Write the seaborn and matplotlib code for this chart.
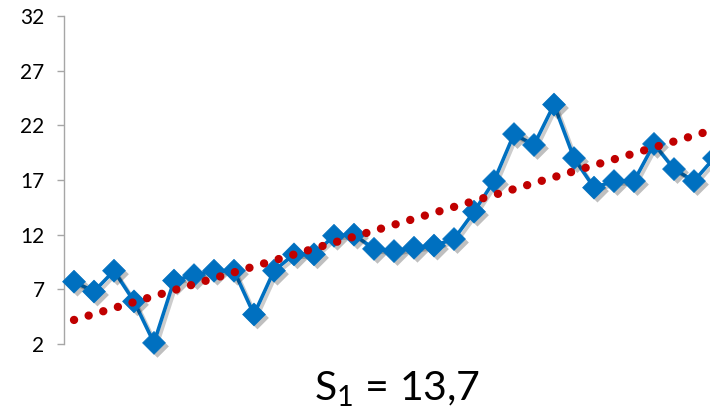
import numpy as np
import pandas as pd
import matplotlib
matplotlib.use("Agg")
import matplotlib.pyplot as plt
import matplotlib.patheffects as pe
import seaborn as sns

# ---- data ----
values = [7.7, 6.8, 8.7, 5.9, 2.1, 7.8, 8.3, 8.7, 8.7, 4.7, 8.7, 10.2, 10.2,
          11.9, 12.0, 10.7, 10.5, 10.8, 11.0, 11.6, 14.1, 16.9, 21.2, 20.2,
          23.9, 19.0, 16.3, 16.9, 16.9, 20.3, 18.0, 16.9, 19.0]
trend_x = [0, 34]
trend_y = [4.2, 22.7]
y_ticks = [2, 7, 12, 17, 22, 27, 32]
label_text = r"$\mathregular{S_1}$ = 13,7"

BLUE = "#0070C0"
RED = "#C00000"

sns.set_style("white")
plt.rcParams["font.family"] = ["Lato", "DejaVu Sans"]
plt.rcParams["mathtext.default"] = "regular"

df = pd.DataFrame({"idx": np.arange(len(values)), "val": values})
tf = pd.DataFrame({"idx": trend_x, "val": trend_y})

fig = plt.figure(figsize=(7.10, 4.15), dpi=100)
ax = fig.add_axes([64 / 710, (415 - 344) / 415, 700 / 710, 328 / 415])

sns.lineplot(data=df, x="idx", y="val", ax=ax, color=BLUE, lw=2.6,
             zorder=2, clip_on=False)
ax.lines[-1].set_path_effects([
    pe.SimpleLineShadow(offset=(2, -2), shadow_color="black", alpha=0.2),
    pe.Normal()])

sns.scatterplot(data=df, x="idx", y="val", ax=ax, marker="D", s=135,
                color=BLUE, edgecolor=BLUE, linewidth=0.5, zorder=3,
                clip_on=False)
ax.collections[-1].set_path_effects([
    pe.SimplePatchShadow(offset=(2.5, -2.5), shadow_rgbFace="black", alpha=0.25),
    pe.Normal()])

sns.lineplot(data=tf, x="idx", y="val", ax=ax, color=RED, lw=6.0, zorder=4,
             clip_on=False)
tl = ax.lines[-1]
tl.set_dashes([0.01, 1.82])
tl.set_dash_capstyle("round")

ax.set_xlim(-0.5, 34.5)
ax.set_ylim(2, 32)
ax.set_yticks(y_ticks)
ax.set_yticklabels([str(t) for t in y_ticks])
ax.set_xticks([])
ax.set_xlabel("")
ax.set_ylabel("")

for s in ["top", "right", "bottom"]:
    ax.spines[s].set_visible(False)
ax.spines["left"].set_color("#A6A6A6")
ax.spines["left"].set_linewidth(1.0)
ax.tick_params(axis="y", direction="out", length=5, width=1.0,
               color="#A6A6A6", labelsize=15, pad=9, labelcolor="black",
               left=True)

fig.text(397 / 710, 14 / 415, label_text, ha="center", va="baseline",
         fontsize=29.5, color="black")

fig.savefig("out.png", dpi=100)
